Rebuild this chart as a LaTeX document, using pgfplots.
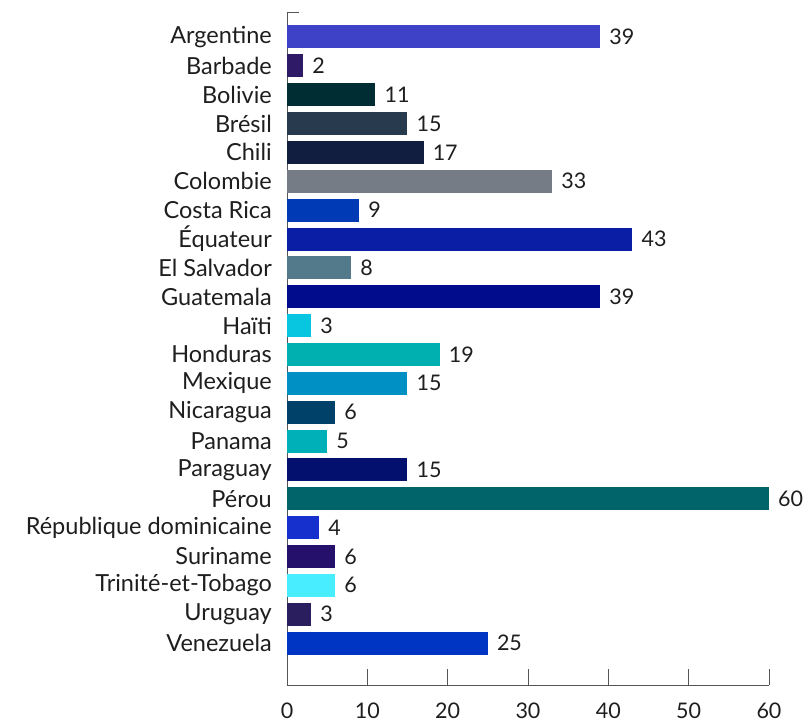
\documentclass[border=0pt]{standalone}
\usepackage{fontspec}
\setmainfont{Lato}
\usepackage{pgfplots}
\pgfplotsset{compat=1.18}

\definecolor{txt}{HTML}{1E1E1E}
\definecolor{axisgrey}{HTML}{555555}
\definecolor{c1}{HTML}{3D42C6}
\definecolor{c2}{HTML}{2E1A66}
\definecolor{c3}{HTML}{002D33}
\definecolor{c4}{HTML}{273A4E}
\definecolor{c5}{HTML}{111E3F}
\definecolor{c6}{HTML}{757C86}
\definecolor{c7}{HTML}{003BB5}
\definecolor{c8}{HTML}{0A1EA5}
\definecolor{c9}{HTML}{537A8A}
\definecolor{c10}{HTML}{000C8C}
\definecolor{c11}{HTML}{08C5E0}
\definecolor{c12}{HTML}{00AFAF}
\definecolor{c13}{HTML}{0090C4}
\definecolor{c14}{HTML}{00416A}
\definecolor{c15}{HTML}{00B0B8}
\definecolor{c16}{HTML}{04106E}
\definecolor{c17}{HTML}{00646A}
\definecolor{c18}{HTML}{1530CC}
\definecolor{c19}{HTML}{25116B}
\definecolor{c20}{HTML}{48EEFF}
\definecolor{c21}{HTML}{2A1E5E}
\definecolor{c22}{HTML}{0035C4}

\begin{document}
\begin{tikzpicture}
\path[use as bounding box] (-287pt,-40pt) rectangle (522pt,685pt);
\begin{axis}[
    scale only axis,
    width=482pt, height=673pt,
    xbar, bar width=23pt, bar shift=0pt,
    y dir=reverse,
    xmin=0, xmax=60,
    ymin=-0.866, ymax=22.455,
    axis x line=bottom, axis y line=left,
    axis line style={-, draw=axisgrey, line width=0.9pt},
    xtick={0,10,...,60},
    ytick={0,...,21},
    yticklabels={Argentine,Barbade,Bolivie,Brésil,Chili,Colombie,Costa Rica,Équateur,El Salvador,Guatemala,Haïti,Honduras,Mexique,Nicaragua,Panama,Paraguay,Pérou,République dominicaine,Suriname,Trinité-et-Tobago,Uruguay,Venezuela},
    y tick style={draw=none},
    x tick style={draw=axisgrey, line width=0.9pt},
    tick align=inside,
    major tick length=16pt,
    /pgf/number format/assume math mode=true,
    xticklabel style={font=\fontsize{21.5}{24}\selectfont, text=txt, anchor=north, inner sep=0pt, yshift=-18pt},
    yticklabel style={font=\fontsize{23.5}{26}\selectfont, text=txt, anchor=east, inner xsep=0pt, xshift=-15pt},
    every axis plot/.append style={draw=none},
    nodes near coords,
    nodes near coords style={anchor=west, inner xsep=0pt, xshift=9pt, font=\fontsize{21.5}{24}\selectfont, text=txt},
    clip=false,
]
\addplot[fill=c1] coordinates {(39,0)};
\addplot[fill=c2] coordinates {(2,1)};
\addplot[fill=c3] coordinates {(11,2)};
\addplot[fill=c4] coordinates {(15,3)};
\addplot[fill=c5] coordinates {(17,4)};
\addplot[fill=c6] coordinates {(33,5)};
\addplot[fill=c7] coordinates {(9,6)};
\addplot[fill=c8] coordinates {(43,7)};
\addplot[fill=c9] coordinates {(8,8)};
\addplot[fill=c10] coordinates {(39,9)};
\addplot[fill=c11] coordinates {(3,10)};
\addplot[fill=c12] coordinates {(19,11)};
\addplot[fill=c13] coordinates {(15,12)};
\addplot[fill=c14] coordinates {(6,13)};
\addplot[fill=c15] coordinates {(5,14)};
\addplot[fill=c16] coordinates {(15,15)};
\addplot[fill=c17] coordinates {(60,16)};
\addplot[fill=c18] coordinates {(4,17)};
\addplot[fill=c19] coordinates {(6,18)};
\addplot[fill=c20] coordinates {(6,19)};
\addplot[fill=c21] coordinates {(3,20)};
\addplot[fill=c22] coordinates {(25,21)};
\draw[axisgrey, line width=0.9pt] (rel axis cs:0,1) -- ++(12pt,0pt);
\end{axis}
\end{tikzpicture}
\end{document}
